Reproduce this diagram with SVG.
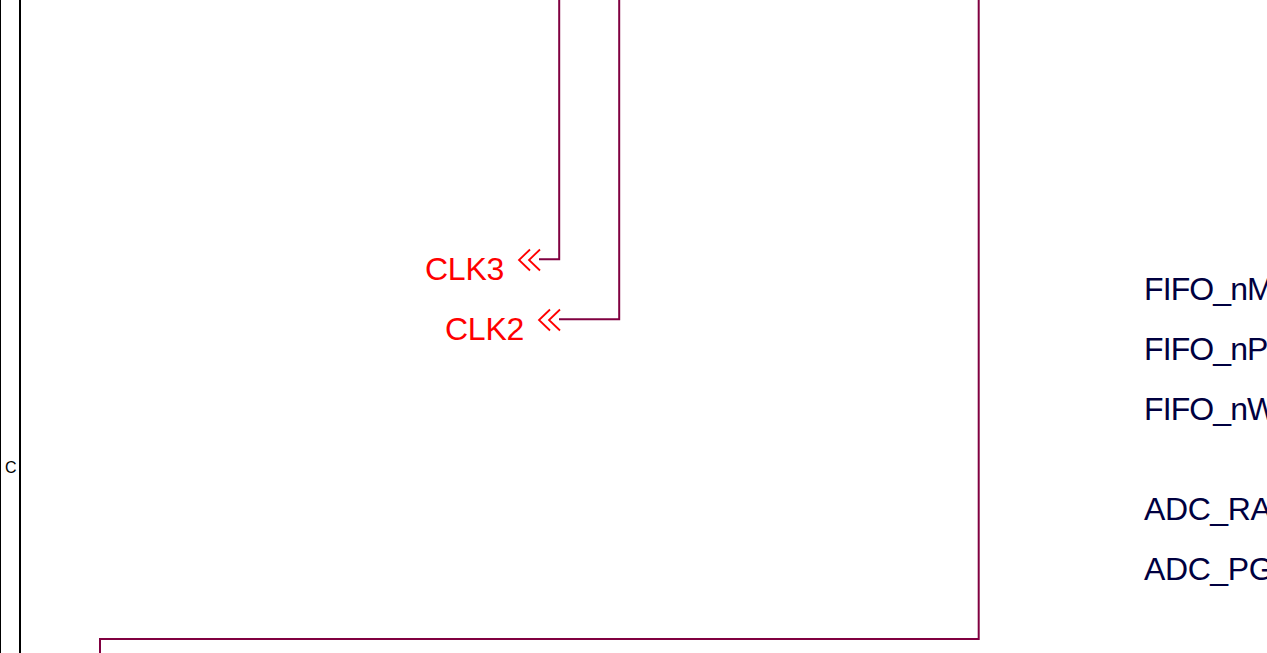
<svg xmlns="http://www.w3.org/2000/svg" width="1267" height="653" viewBox="0 0 1267 653">
<style>
text{font-family:"Liberation Sans",Arial,sans-serif}
.w{fill:none;stroke:#800040;stroke-width:2}
.a{fill:none;stroke:#ff0000;stroke-width:1.800}
.k{fill:none;stroke:#000;stroke-width:2}
.r{fill:#ff0000;font-size:32px;letter-spacing:-0.250px}
.n{fill:#000040;font-size:32px;letter-spacing:-0.900px}
.d{fill:#000040;font-size:32px;letter-spacing:-0.400px}
.c{fill:#000;font-size:16px}
</style>
<rect width="1267" height="653" fill="#fff"/>
<g id="connectors">
<path class="w" d="M559.200 0V259.200H539"/>
<path class="w" d="M619.200 0V319.200H559"/>
<path class="w" d="M978.700 0V639H100V653"/>
</g>
<g id="frame">
<path class="k" d="M0 0V653"/>
<path class="k" d="M20 0V653"/>
<text class="c" x="5" y="472.500">C</text>
</g>
<g id="clk3">
<path class="a" d="M530 249.500L519 260L530 270.500M540 249.500L529 260L540 270.500"/>
<text class="r" x="425" y="280">CLK3</text>
</g>
<g id="clk2">
<path class="a" d="M550 309.500L539 320L550 330.500M560 309.500L549 320L560 330.500"/>
<text class="r" x="445" y="340">CLK2</text>
</g>
<g id="fifo_nm"><text class="n" x="1144" y="300">FIFO_nM</text></g>
<g id="fifo_np"><text class="n" x="1144" y="360">FIFO_nP</text></g>
<g id="fifo_nw"><text class="n" x="1144" y="420">FIFO_nW</text></g>
<g id="adc_ra"><text class="d" x="1144" y="520">ADC_RA</text></g>
<g id="adc_pg"><text class="d" x="1144" y="580">ADC_PG</text></g>
</svg>
